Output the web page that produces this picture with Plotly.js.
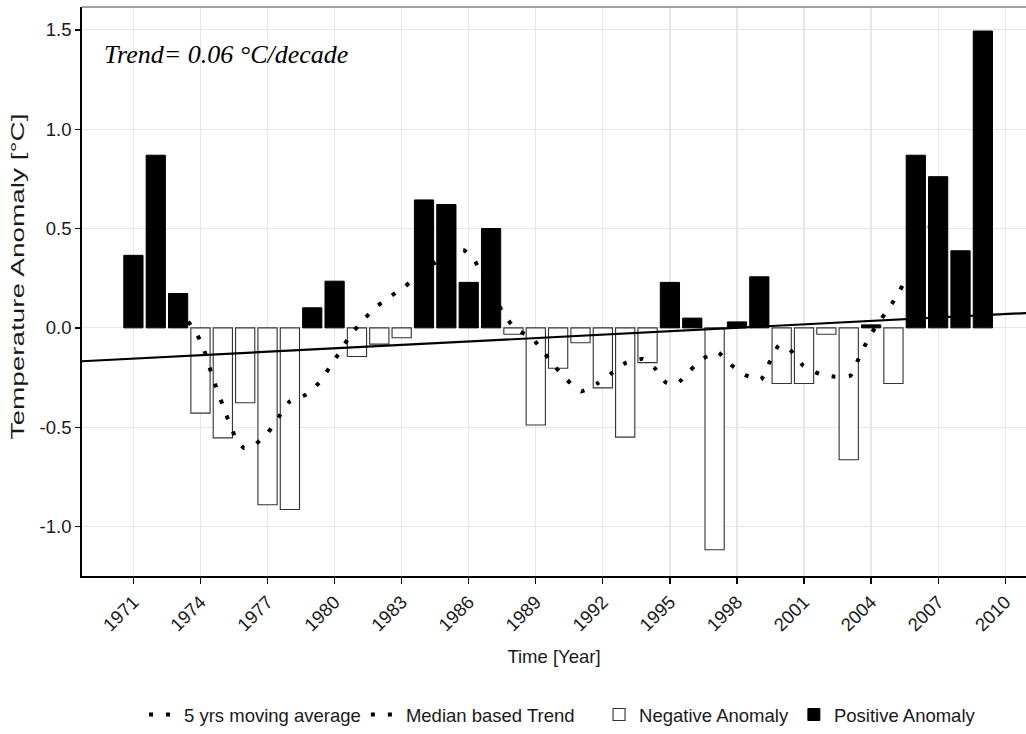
<!DOCTYPE html>
<html>
<head>
<meta charset="utf-8">
<script src="https://cdn.plot.ly/plotly-3.0.1.min.js"></script>
<style>
html, body { margin: 0; padding: 0; background: #ffffff; }
#chart { width: 1026px; height: 734px; }
</style>
</head>
<body>
<div id="chart"></div>
<script>
// ---- data ----
const years = [1971, 1972, 1973, 1974, 1975, 1976, 1977, 1978, 1979, 1980,
               1981, 1982, 1983, 1984, 1985, 1986, 1987, 1988, 1989, 1990,
               1991, 1992, 1993, 1994, 1995, 1996, 1997, 1998, 1999, 2000,
               2001, 2002, 2003, 2004, 2005, 2006, 2007, 2008, 2009];
const anomalies = [0.365, 0.869, 0.173, -0.429, -0.554, -0.377, -0.890, -0.914, 0.101, 0.235,
                   -0.144, -0.082, -0.050, 0.644, 0.621, 0.229, 0.500, -0.032, -0.489, -0.203,
                   -0.075, -0.302, -0.550, -0.175, 0.229, 0.049, -1.117, 0.030, 0.257, -0.280,
                   -0.280, -0.032, -0.664, 0.015, -0.280, 0.869, 0.761, 0.388, 1.494];

const maYears = [1973.0, 1973.4, 1973.66, 1974.06, 1974.58, 1975.13, 1975.6, 1975.95, 1976.35, 1977.0,
                 1977.5, 1978.0, 1978.72, 1979.29, 1979.77, 1980.24, 1980.69, 1981.21, 1981.8, 1982.45,
                 1983.11, 1983.8, 1984.49, 1985.2, 1985.76, 1986.28, 1986.65, 1987.1, 1987.6, 1988.07,
                 1988.82, 1989.34, 1989.82, 1990.38, 1991.02, 1991.75, 1992.4, 1993.04, 1993.77, 1994.3,
                 1994.81, 1995.3, 1995.9, 1996.52, 1997.12, 1997.72, 1998.37, 1999.07, 1999.44, 1999.88,
                 2000.37, 2000.96, 2001.68, 2002.38, 2003.08, 2003.47, 2003.84, 2004.29, 2004.81, 2005.26,
                 2005.66, 2006.44, 2007.0];
const maValues = [0.10, 0.04, 0.00, -0.08, -0.26, -0.43, -0.56, -0.605, -0.595, -0.53,
                  -0.45, -0.37, -0.336, -0.278, -0.20, -0.12, -0.04, 0.03, 0.10, 0.155,
                  0.205, 0.27, 0.328, 0.37, 0.392, 0.336, 0.248, 0.16, 0.065, -0.004,
                  -0.05, -0.12, -0.19, -0.26, -0.32, -0.28, -0.228, -0.175, -0.157, -0.20,
                  -0.274, -0.283, -0.214, -0.153, -0.121, -0.185, -0.237, -0.26, -0.177, -0.088,
                  -0.11, -0.19, -0.231, -0.246, -0.24, -0.147, -0.063, 0.021, 0.099, 0.183,
                  0.267, 0.459, 0.62];

const trendYears = [1968, 2011];
const trendValues = [-0.172, 0.075];

const xTickValues = [1971, 1974, 1977, 1980, 1983, 1986, 1989, 1992, 1995, 1998, 2001, 2004, 2007, 2010];
const xTickLabels = ['1971', '1974', '1977', '1980', '1983', '1986', '1989', '1992', '1995', '1998', '2001', '2004', '2007', '2010'];
const yTickValues = [-1.0, -0.5, 0.0, 0.5, 1.0, 1.5];
const yTickLabels = ['-1.0', '-0.5', '0.0', '0.5', '1.0', '1.5'];

const trendText = 'Trend= 0.06 °C/decade';

// ---- split the anomalies into negative / positive series ----
const negYears = [], negVals = [], posYears = [], posVals = [];
years.forEach((yr, i) => {
  if (anomalies[i] < 0) { negYears.push(yr); negVals.push(anomalies[i]); }
  else { posYears.push(yr); posVals.push(anomalies[i]); }
});

const FONT = '"Liberation Sans", Arial, Helvetica, sans-serif';
const DOTS = '4px,13px';

const data = [
  {
    type: 'bar', name: 'Negative Anomaly', legend: 'legend2',
    x: negYears, y: negVals, width: 0.86,
    marker: { color: '#ffffff', line: { color: '#333333', width: 1.1 } },
    hoverinfo: 'skip'
  },
  {
    type: 'bar', name: 'Positive Anomaly', legend: 'legend2',
    x: posYears, y: posVals, width: 0.86,
    marker: { color: '#000000', line: { color: '#000000', width: 1 } },
    hoverinfo: 'skip'
  },
  {
    type: 'scatter', mode: 'lines', name: 'Median based Trend', showlegend: false,
    x: trendYears, y: trendValues,
    line: { color: '#000000', width: 2.2 },
    hoverinfo: 'skip'
  },
  {
    type: 'scatter', mode: 'lines', name: '5 yrs moving average', legend: 'legend',
    x: maYears, y: maValues,
    line: { color: '#000000', width: 4, dash: DOTS, shape: 'spline', smoothing: 0.5 },
    hoverinfo: 'skip'
  },
  {
    type: 'scatter', mode: 'lines', name: 'Median based Trend', legend: 'legend',
    x: [null], y: [null],
    line: { color: '#000000', width: 4, dash: DOTS },
    hoverinfo: 'skip'
  }
];

const legendCommon = {
  orientation: 'h', yanchor: 'middle', y: -0.2434, xanchor: 'left',
  font: { family: FONT, size: 18.5, color: '#1a1a1a' },
  bgcolor: 'rgba(0,0,0,0)', borderwidth: 0, itemwidth: 30, traceorder: 'normal'
};

const layout = {
  width: 1026, height: 734,
  margin: { l: 82, r: 0, t: 7, b: 157 },
  paper_bgcolor: '#ffffff', plot_bgcolor: '#ffffff',
  font: { family: FONT, size: 18.5, color: '#1a1a1a' },
  barmode: 'overlay',
  showlegend: true,
  xaxis: {
    range: [1968.7, 2010.93],
    tickmode: 'array', tickvals: xTickValues, ticktext: xTickLabels,
    tickangle: -45, tickfont: { family: FONT, size: 18.5, color: '#1a1a1a' },
    ticks: 'outside', ticklen: 6, tickwidth: 1.3, tickcolor: '#000000',
    showline: true, linecolor: '#000000', linewidth: 2,
    showgrid: true, gridcolor: '#e6e6e6', gridwidth: 1.2, zeroline: false,
    title: { text: 'Time [Year]', font: { family: FONT, size: 18.5, color: '#1a1a1a' }, standoff: 16 }
  },
  yaxis: {
    range: [-1.249, 1.615],
    tickmode: 'array', tickvals: yTickValues, ticktext: yTickLabels,
    tickfont: { family: FONT, size: 18.5, color: '#1a1a1a' },
    ticks: 'outside', ticklen: 5, tickwidth: 1.3, tickcolor: '#000000',
    showline: true, linecolor: '#000000', linewidth: 1.8,
    showgrid: true, gridcolor: '#e6e6e6', gridwidth: 1.2, zeroline: false,
    title: { text: 'Temperature Anomaly [°C]', font: { family: FONT, size: 19, color: '#1a1a1a' }, standoff: 10 }
  },
  legend: Object.assign({}, legendCommon, { x: 0.0657 }),
  legend2: Object.assign({}, legendCommon, { x: 0.5477 }),
  shapes: [
    { type: 'line', xref: 'paper', yref: 'paper', x0: 0, x1: 1, y0: 1, y1: 1,
      line: { color: '#808080', width: 1.5 } }
  ],
  annotations: [
    { xref: 'paper', yref: 'paper', x: 0.0212, y: 0.916, xanchor: 'left', yanchor: 'middle',
      text: trendText, showarrow: false,
      font: { family: '"Liberation Serif", "Times New Roman", serif', size: 26, style: 'italic', color: '#000000' } }
  ]
};

Plotly.newPlot('chart', data, layout, { staticPlot: true, displayModeBar: false }).then(function (gd) {
  const t = gd.querySelector('.ytitle');
  if (t) {
    const x0 = parseFloat(t.getAttribute('x')) || 0;
    t.setAttribute('x', String(x0 + 15));   // nudge the rotated title up to match the reference
    t.setAttribute('textLength', '326');
    t.setAttribute('lengthAdjust', 'spacingAndGlyphs');
  }
});
</script>
</body>
</html>
